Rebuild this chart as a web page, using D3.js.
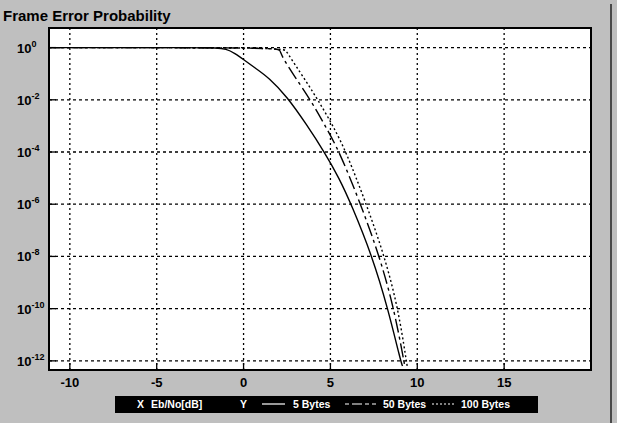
<!DOCTYPE html>
<html><head><meta charset="utf-8">
<script src="https://cdn.jsdelivr.net/npm/d3@7"></script>
<style>body{margin:0;background:#fff}svg{display:block}</style>
</head><body>
<svg id="c" width="617" height="423"></svg>
<script>
// ---- data ----
const xTicks = [-10, -5, 0, 5, 10, 15];
const yTicks = [1, 1e-2, 1e-4, 1e-6, 1e-8, 1e-10, 1e-12];
const yTickExp = ["0", "-2", "-4", "-6", "-8", "-10", "-12"];
const seriesNames = ["5 Bytes", "50 Bytes", "100 Bytes"];
const ebno5   = [-11.2, -2.5, -1.6, -1.0, -0.5, 0.0, 0.7, 1.45, 2.5, 3.6, 4.7, 5.5, 6.2, 7.41, 8.31, 9.04, 9.15];
const logFer5 = [0, 0, -0.01, -0.05, -0.22, -0.46, -0.8, -1.15, -1.88, -2.92, -4.05, -5.0, -6, -8, -10, -12, -12.2];
const ebno50   = [-11.2, 1.95, 2.1, 2.2, 2.94, 3.85, 4.7, 5.53, 6.74, 7.83, 8.66, 9.23, 9.28];
const logFer50 = [0, 0, -0.1, -0.34, -1.11, -2, -3, -4, -6, -8, -10, -12, -12.2];
const ebno100   = [-11.2, 2.25, 2.45, 2.65, 3.42, 4.28, 5.15, 5.91, 7.07, 8.12, 8.9, 9.37, 9.42];
const logFer100 = [0, 0, -0.12, -0.34, -1.11, -2, -3, -4, -6, -8, -10, -12, -12.2];

const series = [
  {name: seriesNames[0], x: ebno5, y: logFer5.map(v => Math.pow(10, v)), dash: null},
  {name: seriesNames[1], x: ebno50, y: logFer50.map(v => Math.pow(10, v)), dash: "14,4,3,4"},
  {name: seriesNames[2], x: ebno100, y: logFer100.map(v => Math.pow(10, v)), dash: "2,2.5"}
];

const svg = d3.select("#c");
const L = 49, R = 591, T = 28, B = 370;
const x = d3.scaleLinear().domain([-11.2, 20]).range([L, R]);
const y = d3.scaleLog().domain([Math.pow(10, 0.75), Math.pow(10, -12.35)]).range([T, B]);

// background
svg.append("rect").attr("width", 617).attr("height", 423).attr("fill", "#bfbfbf");
svg.append("line").attr("x1", 611).attr("x2", 611).attr("y1", 4).attr("y2", 423)
  .attr("stroke", "#222").attr("stroke-width", 1.5);

// title
svg.append("text").attr("x", 3).attr("y", 21).text("Frame Error Probability")
  .attr("font-family", "Liberation Sans, Arial, sans-serif").attr("font-weight", "bold")
  .attr("font-size", 15).attr("fill", "#000");

// plot area
svg.append("rect").attr("x", L).attr("y", T).attr("width", R - L).attr("height", B - T)
  .attr("fill", "#fff");

svg.append("defs").append("clipPath").attr("id", "clip")
  .append("rect").attr("x", L).attr("y", T).attr("width", R - L).attr("height", B - T);

// grid
const g = svg.append("g");
g.selectAll(".vg").data(xTicks).join("line")
  .attr("x1", d => x(d)).attr("x2", d => x(d)).attr("y1", T).attr("y2", B)
  .attr("stroke", "#000").attr("stroke-width", 1.3).attr("stroke-dasharray", "2,3");
g.selectAll(".hg").data(yTicks).join("line")
  .attr("x1", L).attr("x2", R).attr("y1", d => y(d)).attr("y2", d => y(d))
  .attr("stroke", "#000").attr("stroke-width", 1.3).attr("stroke-dasharray", "3,3");

// ticks (inward)
g.selectAll(".xt").data(xTicks).join("line")
  .attr("x1", d => x(d)).attr("x2", d => x(d)).attr("y1", B).attr("y2", B - 7)
  .attr("stroke", "#000").attr("stroke-width", 1.3);
g.selectAll(".yt").data(yTicks).join("line")
  .attr("x1", L).attr("x2", L + 7).attr("y1", d => y(d)).attr("y2", d => y(d))
  .attr("stroke", "#000").attr("stroke-width", 1.3);

// curves
const line = d3.line().x(d => x(d[0])).y(d => y(d[1])).curve(d3.curveBasis);
const cg = svg.append("g").attr("clip-path", "url(#clip)");
series.forEach(s => {
  const pts = s.x.map((v, i) => [v, s.y[i]]);
  cg.append("path").attr("d", line(pts)).attr("fill", "none")
    .attr("stroke", "#000").attr("stroke-width", 1.4)
    .attr("stroke-dasharray", s.dash);
});

// frame
svg.append("rect").attr("x", L).attr("y", T).attr("width", R - L).attr("height", B - T)
  .attr("fill", "none").attr("stroke", "#000").attr("stroke-width", 2);

// x labels
svg.selectAll(".xl").data(xTicks).join("text")
  .attr("x", d => x(d)).attr("y", 387).attr("text-anchor", "middle")
  .attr("font-family", "Liberation Sans, Arial, sans-serif").attr("font-weight", "bold")
  .attr("font-size", 13).text(d => d);

// y labels
const yl = svg.selectAll(".yl").data(yTicks).join("text")
  .attr("x", 17).attr("y", d => y(d) + 5)
  .attr("font-family", "Liberation Sans, Arial, sans-serif").attr("font-weight", "bold")
  .attr("font-size", 13);
yl.append("tspan").text("10");
yl.append("tspan").attr("dy", -6).attr("font-size", 9).text((d, i) => yTickExp[i]);

// legend bar
svg.append("rect").attr("x", 115).attr("y", 396).attr("width", 423).attr("height", 17).attr("fill", "#000");
const lf = {"font-family": "Liberation Sans, Arial, sans-serif", "font-weight": "bold", "font-size": 10.5, "fill": "#fff"};
function ltext(xp, t) {
  const e = svg.append("text").attr("x", xp).attr("y", 408).text(t);
  Object.entries(lf).forEach(([k, v]) => e.attr(k, v));
}
ltext(137, "X");
ltext(151, "Eb/No[dB]");
ltext(240, "Y");
ltext(293, seriesNames[0]);
ltext(383, seriesNames[1]);
ltext(461, seriesNames[2]);
const samples = [[262, 285, null], [345, 376, "4,3,10,3"], [432, 454, "2,2"]];
samples.forEach(([a, b, d]) => {
  svg.append("line").attr("x1", a).attr("x2", b).attr("y1", 404).attr("y2", 404)
    .attr("stroke", "#fff").attr("stroke-width", 1.2).attr("stroke-dasharray", d);
});
</script>
</body></html>
